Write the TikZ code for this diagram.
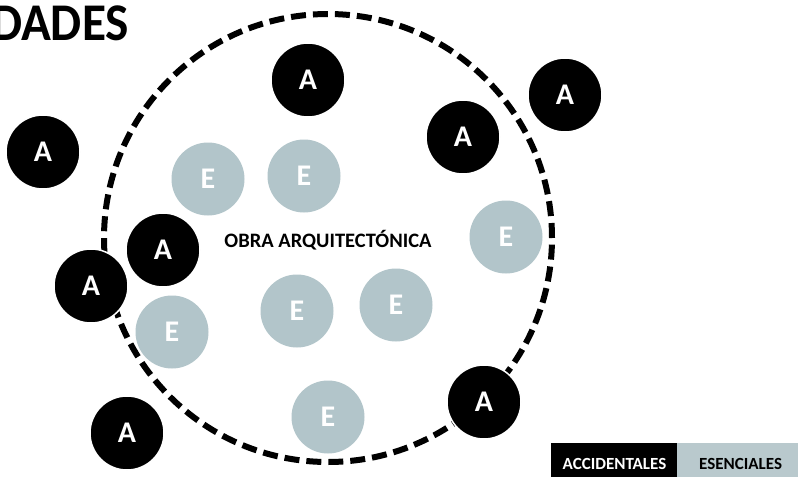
\documentclass[tikz,border=0pt]{standalone}
\usepackage{fontspec}
\setmainfont{Carlito}
\definecolor{egrey}{RGB}{178,197,202}
\definecolor{lgrey}{RGB}{185,201,205}
\begin{document}
\begin{tikzpicture}[x=1pt,y=-1pt,
  acc/.style={circle,fill=black,draw=white,line width=1.5pt,minimum size=74pt,inner sep=0pt,
    text=white,font=\fontsize{30}{32}\selectfont\bfseries},
  ese/.style={circle,fill=egrey,minimum size=73pt,inner sep=0pt,
    text=white,font=\fontsize{30}{32}\selectfont\bfseries},
  legendtxt/.style={font=\fontsize{17}{19}\selectfont\bfseries,inner sep=0pt},
  boundary/.style={draw=black,line width=6pt,dash pattern=on 15pt off 7pt}]
\useasboundingbox[fill=white] (0,0) rectangle (798,477);
% title
\node[anchor=base west,inner sep=0pt,font=\fontsize{53}{56}\selectfont\bfseries,xscale=0.93] (title) at (-9,40) {DADES};
% boundary circle
\node[circle,minimum size=448pt,inner sep=0pt] (obra) at (328,238) {};
\draw[boundary] (obra.center) circle[radius=224pt];
\node[font=\fontsize{20.5}{22}\selectfont\bfseries] (lbl) at (328,240) {OBRA ARQUITECTÓNICA};
% esenciales
\node[ese] (e1) at (208,179) {E};
\node[ese] (e2) at (304,176) {E};
\node[ese] (e3) at (506,237) {E};
\node[ese] (e4) at (172,332) {E};
\node[ese] (e5) at (297,311) {E};
\node[ese] (e6) at (396,305) {E};
\node[ese] (e7) at (328,417) {E};
% accidentales
\node[acc] (a1) at (308,80) {A};
\node[acc] (a2) at (565,95) {A};
\node[acc] (a3) at (463,137) {A};
\node[acc] (a4) at (43,152) {A};
\node[acc] (a5) at (163,250) {A};
\node[acc] (a6) at (91,286) {A};
\node[acc] (a7) at (484,402) {A};
\node[acc] (a8) at (127,433) {A};
% legend
\node[fill=black,minimum width=126pt,minimum height=34pt,inner sep=0pt] (lacc) at (614,460) {};
\node[fill=lgrey,minimum width=121pt,minimum height=34pt,inner sep=0pt,anchor=west] (lese) at (lacc.east) {};
\node[legendtxt,text=white] (tacc) at (614.5,464) {ACCIDENTALES};
\node[legendtxt,text=black,anchor=west] (tese) at (699,464) {ESENCIALES};
\end{tikzpicture}
\end{document}
